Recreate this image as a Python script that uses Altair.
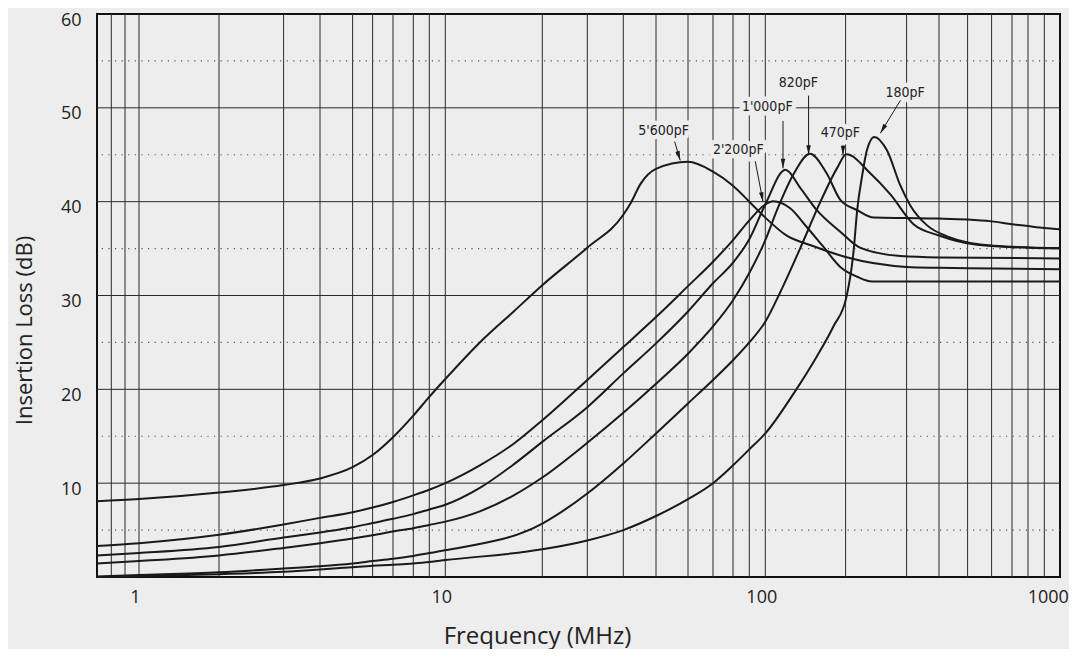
import altair as alt
import pandas as pd

# ---------------- axis as drawn (log frequency axis, hand-placed gridlines) ----
scale_freq = [0.73, 0.8, 0.9, 1, 2, 3, 4, 5, 6, 7, 8, 9, 10, 20, 30, 40, 50, 60,
              70, 80, 90, 100, 200, 300, 400, 500, 600, 700, 800, 900, 1000]
scale_range = [0, 14.3, 28, 42, 122, 186.6, 223, 255.6, 275.6, 296, 316.3, 332.3,
               348.3, 445.3, 490.3, 526.3, 559, 591, 616, 636, 652.3, 668.3, 748.6,
               809.6, 842, 870.6, 894.6, 915, 931, 947.3, 963.3]
vgrid_freq = [0.8, 0.9, 1, 2, 3, 4, 5, 6, 7, 8, 9, 10, 20, 30, 40, 50, 60, 70, 80,
              90, 100, 200, 300, 400, 500, 600, 700, 800, 900]
hgrid_major = [10, 20, 30, 40, 50]
hgrid_minor = [5, 15, 25, 35, 45, 55]
x_tick_labels = [1, 10, 100, 1000]
y_tick_labels = [10, 20, 30, 40, 50, 60]

# ---------------- curves (frequency MHz, insertion loss dB) -------------------
f_5600 = [0.73, 1, 2, 3, 4, 5, 6, 7, 8, 9, 10, 12.8, 16.3, 20, 30, 40, 42, 45, 50,
          60, 70, 80, 90, 100, 120, 150, 200, 300, 400, 500, 1000]
db_5600 = [8.07, 8.3, 9.0, 9.8, 10.5, 11.7, 13.0, 14.9, 17.2, 19.2, 21.1, 25.0,
           28.3, 31.1, 35.1, 38.6, 39.8, 41.9, 43.5, 44.25, 43.2, 41.7, 40.0, 38.3,
           36.4, 35.3, 34.1, 33.05, 32.95, 32.9, 32.8]

f_2200 = [0.73, 1, 2, 3, 4, 5, 6, 7, 8, 9, 10, 12.8, 16.3, 20, 30, 40, 50, 60, 70,
          80, 90, 100, 107, 124, 143, 165, 191, 216, 238, 300, 1000]
db_2200 = [3.3, 3.6, 4.5, 5.6, 6.3, 6.9, 7.4, 8.0, 8.7, 9.3, 10.0, 11.9, 14.2, 16.7,
           21.0, 24.5, 27.7, 31.0, 33.6, 35.9, 38.0, 39.7, 40.05, 39.3, 37.3, 35.2,
           33.05, 32.0, 31.5, 31.5, 31.5]

f_1000 = [0.73, 1, 2, 3, 4, 5, 6, 7, 8, 9, 10, 12.8, 16.3, 20, 30, 40, 50, 60, 70,
          80, 90, 100, 119, 135, 156, 191, 220, 288, 400, 1000]
db_1000 = [2.3, 2.56, 3.2, 4.2, 4.75, 5.3, 5.75, 6.2, 6.7, 7.2, 7.7, 9.5, 12.0, 14.4,
           18.1, 21.7, 24.9, 28.3, 31.3, 33.5, 36.0, 39.7, 43.4, 41.5, 39.1, 36.8,
           35.1, 34.2, 34.05, 33.95]

f_820 = [0.73, 1, 2, 3, 4, 5, 6, 7, 8, 9, 10, 12.8, 16.3, 20, 30, 40, 50, 60, 70,
         80, 90, 100, 111, 128, 147, 170, 191, 216, 241, 300, 400, 500, 600, 700,
         800, 900, 1000]
db_820 = [1.43, 1.7, 2.3, 3.1, 3.6, 4.1, 4.45, 4.85, 5.2, 5.55, 5.9, 7.0, 8.7, 10.6,
          14.3, 17.5, 20.6, 23.8, 26.7, 29.5, 32.4, 35.9, 39.2, 43.0, 45.1, 43.0,
          40.2, 39.1, 38.3, 38.25, 38.2, 38.1, 37.9, 37.6, 37.4, 37.2, 37.05]

f_470 = [0.73, 1, 2, 3, 4, 5, 6, 7, 8, 9, 10, 20, 30, 40, 50, 60, 70, 80, 90, 100,
         114, 135, 161, 186, 201, 236, 269, 319, 400, 537, 700, 1000]
db_470 = [0.05, 0.2, 0.5, 0.9, 1.15, 1.45, 1.7, 1.95, 2.25, 2.55, 2.85, 5.7, 8.9,
          12.1, 15.3, 18.5, 21.0, 23.1, 25.0, 27.2, 30.4, 35.0, 40.0, 43.6, 45.05,
          43.0, 40.8, 37.6, 36.4, 35.4, 35.15, 35.0]

f_180 = [0.73, 1, 2, 3, 4, 5, 6, 7, 8, 9, 10, 20, 30, 40, 50, 60, 70, 80, 90, 100,
         128, 156, 180, 201, 211, 216, 223, 230.5, 242, 263, 288, 310, 359, 426,
         609, 1000]
db_180 = [0.0, 0.1, 0.3, 0.55, 0.8, 1.05, 1.2, 1.3, 1.45, 1.6, 1.8, 2.95, 3.9, 5.0,
          6.5, 8.3, 10.0, 11.9, 13.6, 15.3, 19.6, 23.5, 26.7, 29.8, 34.8, 39.1,
          42.65, 45.5, 46.9, 45.5, 41.7, 39.6, 37.5, 36.3, 35.3, 35.05]

curve_names = ["5'600pF", "2'200pF", "1'000pF", "820pF", "470pF", "180pF"]
curve_freqs = [f_5600, f_2200, f_1000, f_820, f_470, f_180]
curve_dbs = [db_5600, db_2200, db_1000, db_820, db_470, db_180]

# ---------------- annotations -----------------------------------------------
label_text = ["5'600pF", "2'200pF", "1'000pF", "820pF", "470pF", "180pF"]
label_f = [52.2, 83.1, 101.7, 133, 191, 297]
label_db = [47.5, 45.5, 50.1, 52.6, 47.3, 51.6]
arrow_f1 = [55.6, 93.6, 116.5, 145.3, 195.6, 288]
arrow_db1 = [46.4, 44.3, 48.6, 51.3, 46.0, 50.8]
arrow_f2 = [57.4, 98.5, 116.5, 145.3, 195.6, 252]
arrow_db2 = [44.4, 40.0, 43.55, 45.0, 44.95, 47.3]
arrow_angle = [343, 349, 0, 0, 0, 31]

# ---------------- tables -----------------------------------------------------
rows = []
for name, fs, ds in zip(curve_names, curve_freqs, curve_dbs):
    for f, d in zip(fs, ds):
        rows.append({"cap": name, "f": f, "db": d})
curves_df = pd.DataFrame(rows)
labels_df = pd.DataFrame({"label": label_text, "f": label_f, "db": label_db})
arrows_df = pd.DataFrame({"f1": arrow_f1, "db1": arrow_db1, "f2": arrow_f2,
                          "db2": arrow_db2, "ang": arrow_angle})

BG = "#ededed"
INK = "#1a1a1a"
AXIS_FONT = "Open Sans"
LABEL_FONT = "Liberation Sans Narrow, DejaVu Sans Condensed, Roboto Condensed, sans-serif"

xs = alt.Scale(type="log", domain=scale_freq, range=scale_range, nice=False)
ys = alt.Scale(domain=[0, 60], nice=False, zero=False)

x_axis = alt.Axis(
    values=x_tick_labels, format="d", title="Frequency (MHz)",
    grid=False, ticks=False, domain=False,
    labelFont=AXIS_FONT, labelFontSize=18, labelColor="#222",
    labelPadding=11, labelOverlap=False, labelOffset=-4,
    labelFlush=True, labelFlushOffset=12,
    titleFont=AXIS_FONT, titleFontSize=24, titleFontWeight="normal",
    titleColor="#222", titleX=440, titleY=66, titleBaseline="alphabetic",
)
y_axis = alt.Axis(
    values=y_tick_labels, title="Insertion Loss (dB)",
    grid=False, ticks=False, domain=False,
    labelFont=AXIS_FONT, labelFontSize=18, labelColor="#222",
    labelPadding=16, labelOffset=6,
    titleFont=AXIS_FONT, titleFontSize=22, titleFontWeight="normal",
    titleColor="#222", titleX=-66, titleY=316, titleAngle=270,
    titleBaseline="alphabetic",
)

vgrid = alt.Chart(pd.DataFrame({"f": vgrid_freq})).mark_rule(
    color="#2a2a2a", strokeWidth=1
).encode(x=alt.X("f:Q", scale=xs, axis=x_axis))

hmajor = alt.Chart(pd.DataFrame({"db": hgrid_major})).mark_rule(
    color="#2a2a2a", strokeWidth=1
).encode(y=alt.Y("db:Q", scale=ys, axis=y_axis))

hminor = alt.Chart(pd.DataFrame({"db": hgrid_minor})).mark_rule(
    color="#555555", strokeWidth=1.1, strokeDash=[1.2, 5.4]
).encode(y=alt.Y("db:Q", scale=ys, axis=y_axis))

halo = alt.Chart(labels_df).mark_text(
    font=LABEL_FONT, fontSize=14, align="center", baseline="middle",
    fill=BG, stroke=BG, strokeWidth=9, strokeJoin="round"
).encode(
    x=alt.X("f:Q", scale=xs, axis=x_axis),
    y=alt.Y("db:Q", scale=ys, axis=y_axis),
    text="label:N",
)

lines = alt.Chart(curves_df).mark_line(
    color=INK, strokeWidth=2, interpolate="monotone"
).encode(
    x=alt.X("f:Q", scale=xs, axis=x_axis),
    y=alt.Y("db:Q", scale=ys, axis=y_axis),
    detail="cap:N",
    order="f:Q",
)

arrows = alt.Chart(arrows_df).mark_rule(color=INK, strokeWidth=1).encode(
    x=alt.X("f1:Q", scale=xs, axis=x_axis),
    y=alt.Y("db1:Q", scale=ys, axis=y_axis),
    x2="f2:Q",
    y2="db2:Q",
)

heads = alt.Chart(arrows_df).mark_point(
    shape="M0,0L-0.45,-1.9L0.45,-1.9Z", filled=True, size=100, color=INK,
    opacity=1, strokeWidth=0
).encode(
    x=alt.X("f2:Q", scale=xs, axis=x_axis),
    y=alt.Y("db2:Q", scale=ys, axis=y_axis),
    angle=alt.Angle("ang:Q", scale=None),
)

texts = alt.Chart(labels_df).mark_text(
    font=LABEL_FONT, fontSize=14, align="center", baseline="middle", color="#222"
).encode(
    x=alt.X("f:Q", scale=xs, axis=x_axis),
    y=alt.Y("db:Q", scale=ys, axis=y_axis),
    text="label:N",
)

chart = alt.layer(vgrid, hmajor, hminor, halo, lines, arrows, heads, texts).properties(
    width=963, height=563,
    autosize=alt.AutoSizeParams(type="none"),
    padding={"left": 89, "top": 6, "right": 9, "bottom": 72},
    background=BG,
).configure_view(stroke="#111111", strokeWidth=2)

chart.save("out.html", embed_options={"renderer": "svg", "actions": False})
